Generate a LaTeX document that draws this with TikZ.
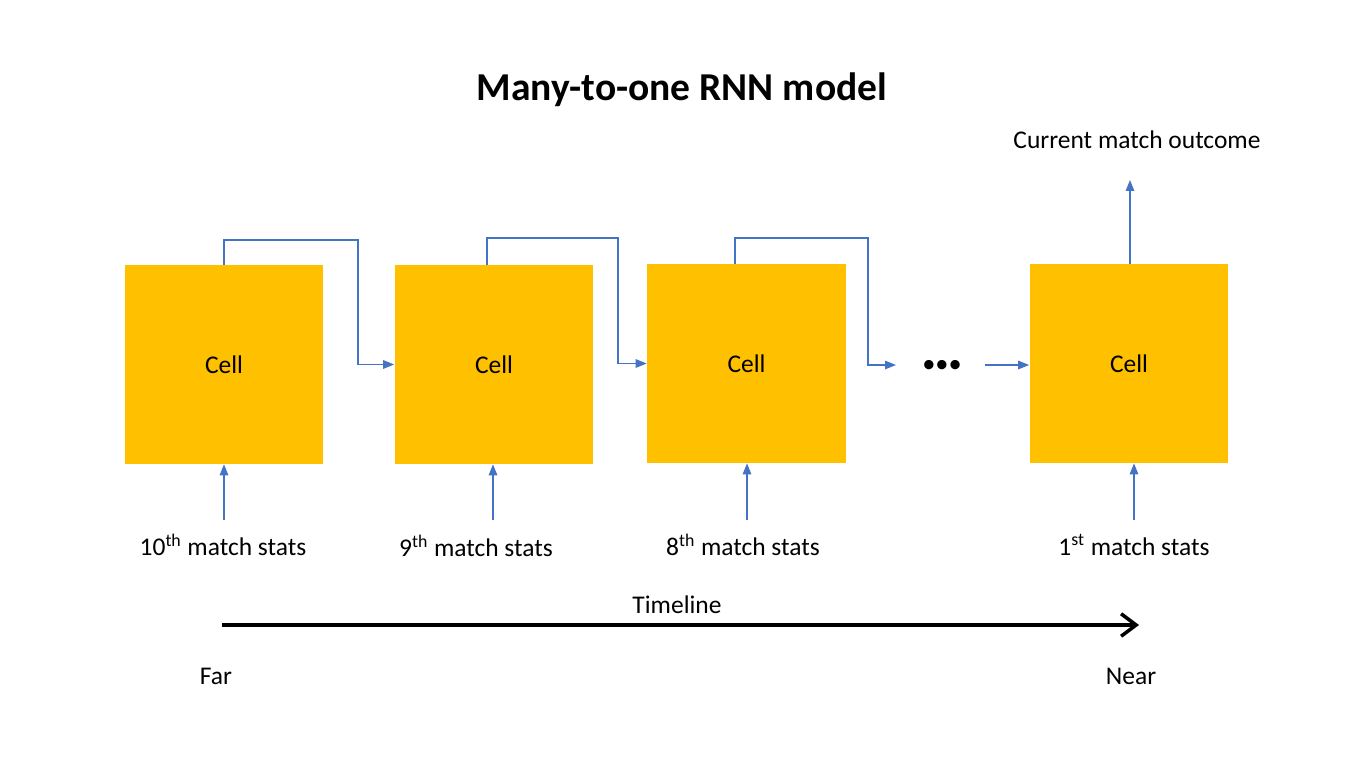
\documentclass[tikz,border=0pt]{standalone}
\usepackage{fontspec}
\setmainfont{Carlito}
\usepackage{tikz}
\usetikzlibrary{arrows.meta}
\definecolor{cellgold}{HTML}{FFC000}
\definecolor{linkblue}{HTML}{4472C4}

\begin{document}
\begin{tikzpicture}[
  x=0.02cm, y=-0.02cm,
  font=\fontsize{14.5}{17}\selectfont,
  cell/.style={fill=cellgold, minimum width=3.98cm, minimum height=3.98cm, inner sep=0pt},
  lbl/.style={inner sep=1pt},
  arr/.style={-{Triangle[length=2.2mm,width=1.7mm]}, linkblue, line width=0.8pt},
  timearr/.style={-{Straight Barb[length=3mm,width=4.5mm,line width=2pt]}, line width=2.3pt}
]
\useasboundingbox (0,0) rectangle (1362,767);

\node[font=\fontsize{22.5}{27}\selectfont\bfseries] (title) at (682,90) {Many-to-one RNN model};

\node[cell] (C10) at (224,364.5) {Cell};
\node[cell] (C9) at (494,364.5) {Cell};
\node[cell] (C8) at (746.5,363.5) {Cell};
\node[cell] (C1) at (1129,363.5) {Cell};

\node[lbl, font=\fontsize{15}{17}\selectfont] (dots) at (942,366) {\textbullet\textbullet\textbullet};
\coordinate (d1) at (896,365);
\coordinate (d2) at (985,365);

\node[lbl] (S10) at (223,545) {10\textsuperscript{th} match stats};
\node[lbl] (S9) at (476,546) {9\textsuperscript{th} match stats};
\node[lbl] (S8) at (743,545) {8\textsuperscript{th} match stats};
\node[lbl] (S1) at (1134,545) {1\textsuperscript{st} match stats};
\node[lbl] (out) at (1137,140) {Current match outcome};
\coordinate (o1) at (1130,180);

% input start points
\coordinate (i10) at (224,520);
\coordinate (i9) at (493,520);
\coordinate (i8) at (747,520);
\coordinate (i1) at (1134,520);

% recurrent links
\draw[arr] (C10.north) |- (358,240) |- (C9.west);
\draw[arr] ([xshift=-4]C9.north) |- (618,238) |- (C8.west);
\draw[arr] ([xshift=-6.5]C8.north) |- (868,238) |- (d1);
\draw[arr] (d2) -- (d2 -| C1.west);
\draw[arr] (C1.north -| o1) -- (o1);

% inputs
\draw[arr] (i10) -- (C10.south -| i10);
\draw[arr] (i9) -- (C9.south -| i9);
\draw[arr] (i8) -- (C8.south -| i8);
\draw[arr] (i1) -- (C1.south -| i1);

% timeline
\node[lbl] (tl) at (677,605) {Timeline};
\node[lbl] (far) at (216,676) {Far};
\node[lbl] (near) at (1131,676) {Near};
\coordinate (t0) at (222,625);
\coordinate (t1) at (1139,625);
\draw[timearr] (t0) -- (t1);
\end{tikzpicture}
\end{document}
